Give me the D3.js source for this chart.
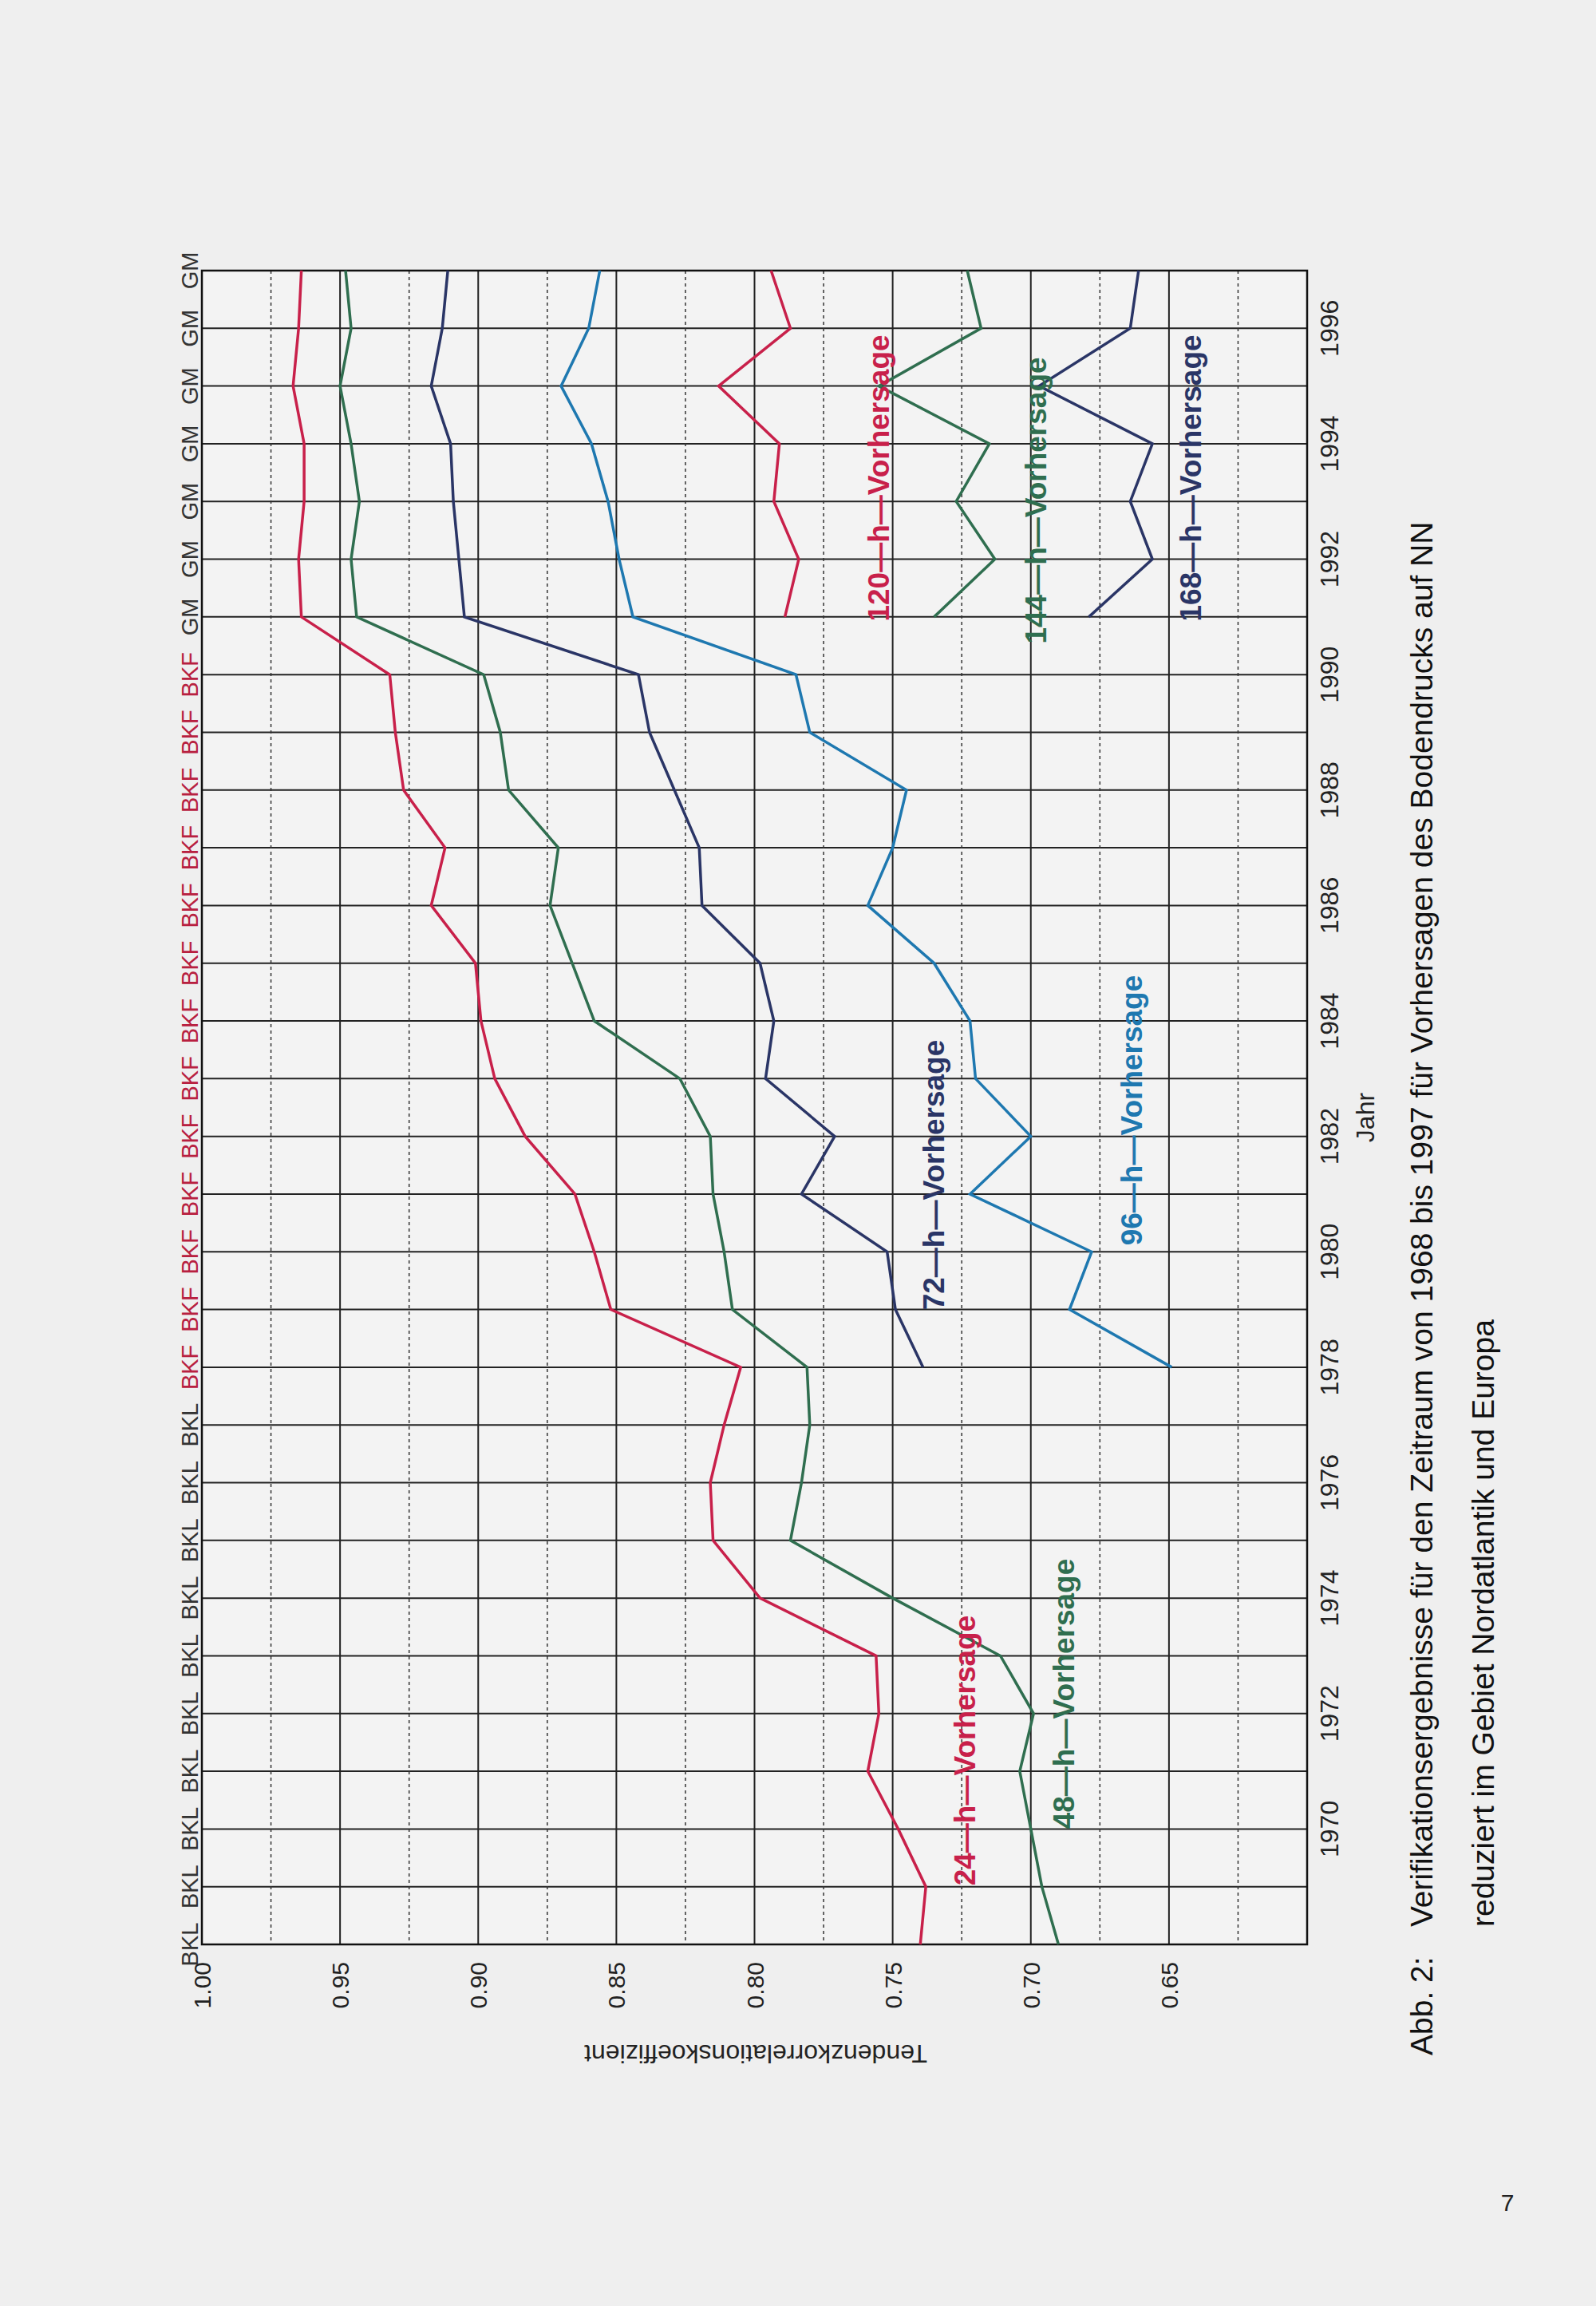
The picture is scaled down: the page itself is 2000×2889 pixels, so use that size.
<!DOCTYPE html>
<html><head><meta charset="utf-8">
<script src="https://cdn.jsdelivr.net/npm/d3@7"></script>
<style>body{margin:0;background:#efefef}</style>
</head><body>
<svg id="c" width="2000" height="2889"></svg>
<script>
const years = d3.range(1968, 1998);
const yearsLate = d3.range(1978, 1998);
const yearsGM = d3.range(1991, 1998);
const s24 = [0.740,0.738,0.748,0.759,0.755,0.756,0.798,0.815,0.816,0.811,0.805,0.852,0.858,0.865,0.883,0.894,0.899,0.901,0.917,0.912,0.927,0.930,0.932,0.964,0.965,0.963,0.963,0.967,0.965,0.964];
const s48 = [0.690,0.696,0.700,0.704,0.699,0.711,0.750,0.787,0.783,0.780,0.781,0.808,0.811,0.815,0.816,0.827,0.858,0.866,0.874,0.871,0.889,0.892,0.898,0.944,0.946,0.943,0.946,0.950,0.946,0.948];
const s72 = [0.739,0.749,0.752,0.783,0.771,0.796,0.793,0.798,0.819,0.820,0.829,0.838,0.842,0.905,0.907,0.909,0.910,0.917,0.913,0.911];
const s96 = [0.649,0.686,0.678,0.722,0.700,0.720,0.722,0.735,0.759,0.750,0.745,0.780,0.785,0.844,0.849,0.853,0.859,0.870,0.860,0.856];
const s120 = [0.789,0.784,0.793,0.791,0.813,0.787,0.794];
const s144 = [0.735,0.713,0.727,0.715,0.755,0.718,0.723];
const s168 = [0.679,0.656,0.664,0.656,0.697,0.664,0.661];
const valueTicks = [1.00,0.95,0.90,0.85,0.80,0.75,0.70,0.65];
const yearTicks = d3.range(1970, 1998, 2);
const modelLabels = years.map(y => y < 1978 ? "BKL" : (y < 1991 ? "BKF" : "GM"));

const svg = d3.select("#c");
const x = d3.scaleLinear().domain([1.0, 0.6]).range([253, 1638]);
const y = d3.scaleLinear().domain([1968, 1997]).range([2436, 339]);
const font = "Liberation Sans, Arial, sans-serif";

svg.append("rect").attr("x",253).attr("y",339).attr("width",1385).attr("height",2097).attr("fill","#f3f3f3");
const g = svg.append("g");
g.selectAll(".yl").data(years).join("line").attr("x1",253).attr("x2",1638)
 .attr("y1",d=>y(d)).attr("y2",d=>y(d)).attr("stroke","#222").attr("stroke-width",2);
g.selectAll(".vl").data(d3.range(0.6,1.001,0.05)).join("line").attr("y1",339).attr("y2",2436)
 .attr("x1",d=>x(d)).attr("x2",d=>x(d)).attr("stroke","#222").attr("stroke-width",2);
g.selectAll(".vd").data(d3.range(0.625,1.0,0.05)).join("line").attr("y1",339).attr("y2",2436)
 .attr("x1",d=>x(d)).attr("x2",d=>x(d)).attr("stroke","#333").attr("stroke-width",1.5).attr("stroke-dasharray","4,4");
svg.append("rect").attr("x",253).attr("y",339).attr("width",1385).attr("height",2097).attr("fill","none").attr("stroke","#111").attr("stroke-width",2.5);

svg.selectAll(".vt").data(valueTicks).join("text").attr("font-family",font).attr("font-size",30).attr("fill","#222")
 .attr("text-anchor","end").attr("transform",d=>`translate(${x(d)+11},2458) rotate(-90)`).text(d=>d.toFixed(2));
svg.selectAll(".yt").data(yearTicks).join("text").attr("font-family",font).attr("font-size",32).attr("fill","#222")
 .attr("text-anchor","middle").attr("transform",d=>`translate(1677,${y(d)}) rotate(-90)`).text(d=>d);
svg.selectAll(".ml").data(years).join("text").attr("font-family",font).attr("font-size",29)
 .attr("fill",(d,i)=>modelLabels[i]==="BKF"?"#b8203f":"#333").attr("text-anchor","middle")
 .attr("transform",d=>`translate(248,${y(d)}) rotate(-90)`).text((d,i)=>modelLabels[i]);

const line = (yrs) => d3.line().x((d)=>x(d)).y((d,i)=>y(yrs[i]));
const series = [
 [s24,years,"#c8204a"],[s48,years,"#2f6e4f"],[s72,yearsLate,"#2a3566"],[s96,yearsLate,"#1e78b0"],
 [s120,yearsGM,"#c8204a"],[s144,yearsGM,"#2f6e4f"],[s168,yearsGM,"#2a3566"]];
series.forEach(([v,yr,c])=>svg.append("path").attr("d",line(yr)(v)).attr("fill","none").attr("stroke",c).attr("stroke-width",3.5));

const labels = [["24—h—Vorhersage",1222,2193,"#c8204a"],["48—h—Vorhersage",1346,2122,"#2f6e4f"],["72—h—Vorhersage",1183,1472,"#2a3566"],
 ["96—h—Vorhersage",1431,1391,"#1e78b0"],["120—h—Vorhersage",1114,599,"#c8204a"],["144—h—Vorhersage",1311,627,"#2f6e4f"],["168—h—Vorhersage",1505,599,"#2a3566"]];
labels.forEach(([t,lx,ly,c])=>svg.append("text").attr("font-family",font).attr("font-weight","bold").attr("font-size",37)
 .attr("fill",c).attr("text-anchor","middle").attr("transform",`translate(${lx},${ly}) rotate(-90)`).text(t));

svg.append("text").attr("font-family",font).attr("font-size",32).attr("fill","#222").attr("text-anchor","middle")
 .attr("transform","translate(947,2562) rotate(180)").text("Tendenzkorrelationskoeffizient");
svg.append("text").attr("font-family",font).attr("font-size",32).attr("fill","#222").attr("text-anchor","middle")
 .attr("transform","translate(1722,1400) rotate(-90)").text("Jahr");
const cap = [["Abb. 2:",1795,2575],["Verifikationsergebnisse für den Zeitraum von 1968 bis 1997 für Vorhersagen des Bodendrucks auf NN",1795,2414],["reduziert im Gebiet Nordatlantik und Europa",1872,2414]];
cap.forEach(([t,cx,cy])=>svg.append("text").attr("font-family",font).attr("font-size",39).attr("fill","#111")
 .attr("transform",`translate(${cx},${cy}) rotate(-90)`).text(t));
svg.append("text").attr("font-family",font).attr("font-size",30).attr("fill","#222").attr("text-anchor","middle")
 .attr("x",1889).attr("y",2770).text("7");
</script>
</body></html>
